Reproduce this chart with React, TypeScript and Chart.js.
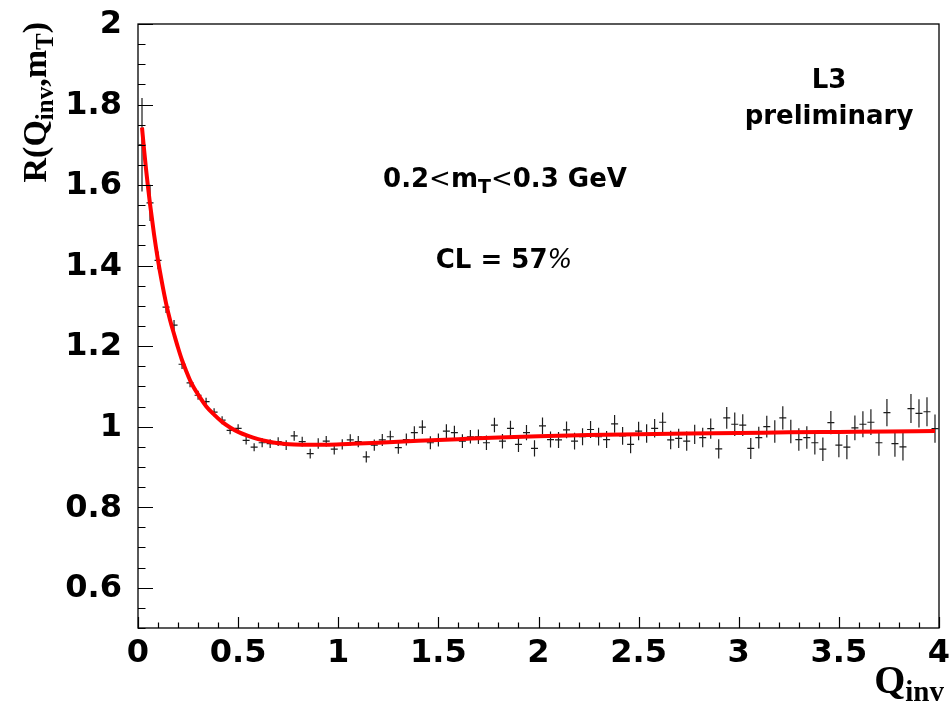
import React, { useEffect, useRef } from 'react';
import { Chart, registerables } from 'chart.js';

Chart.register(...registerables);

// ---- Data ----
const Q_BINS = [
  0.02, 0.06, 0.10, 0.14, 0.18, 0.22, 0.26, 0.30, 0.34, 0.38,
  0.42, 0.46, 0.50, 0.54, 0.58, 0.62, 0.66, 0.70, 0.74, 0.78,
  0.82, 0.86, 0.90, 0.94, 0.98, 1.02, 1.06, 1.10, 1.14, 1.18,
  1.22, 1.26, 1.30, 1.34, 1.38, 1.42, 1.46, 1.50, 1.54, 1.58,
  1.62, 1.66, 1.70, 1.74, 1.78, 1.82, 1.86, 1.90, 1.94, 1.98,
  2.02, 2.06, 2.10, 2.14, 2.18, 2.22, 2.26, 2.30, 2.34, 2.38,
  2.42, 2.46, 2.50, 2.54, 2.58, 2.62, 2.66, 2.70, 2.74, 2.78,
  2.82, 2.86, 2.90, 2.94, 2.98, 3.02, 3.06, 3.10, 3.14, 3.18,
  3.22, 3.26, 3.30, 3.34, 3.38, 3.42, 3.46, 3.50, 3.54, 3.58,
  3.62, 3.66, 3.70, 3.74, 3.78, 3.82, 3.86, 3.90, 3.94, 3.98,
];

const R_VALUES = [
  1.700, 1.556, 1.413, 1.297, 1.252, 1.155, 1.109, 1.078, 1.062, 1.036,
  1.016, 0.991, 0.996, 0.966, 0.949, 0.960, 0.958, 0.963, 0.954, 0.977,
  0.963, 0.933, 0.958, 0.964, 0.944, 0.956, 0.967, 0.963, 0.925, 0.954,
  0.967, 0.975, 0.948, 0.968, 0.985, 0.999, 0.960, 0.967, 0.989, 0.985,
  0.964, 0.975, 0.975, 0.960, 1.004, 0.964, 0.996, 0.956, 0.985, 0.946,
  1.002, 0.968, 0.967, 0.992, 0.964, 0.975, 0.993, 0.975, 0.968, 1.007,
  0.977, 0.956, 0.989, 0.983, 0.996, 1.011, 0.967, 0.971, 0.964, 0.981,
  0.973, 0.995, 0.945, 1.022, 1.006, 1.004, 0.946, 0.973, 1.000, 0.988,
  1.022, 0.988, 0.968, 0.973, 0.960, 0.944, 1.010, 0.954, 0.949, 0.997,
  1.006, 1.011, 0.960, 1.035, 0.958, 0.950, 1.045, 1.033, 1.037, 0.995,
];

const R_ERRORS = [
  0.116, 0.045, 0.022, 0.015, 0.013, 0.012, 0.011, 0.011, 0.010, 0.010,
  0.010, 0.010, 0.010, 0.010, 0.010, 0.011, 0.011, 0.011, 0.012, 0.012,
  0.012, 0.012, 0.013, 0.013, 0.013, 0.013, 0.014, 0.014, 0.014, 0.014,
  0.015, 0.015, 0.015, 0.015, 0.016, 0.017, 0.016, 0.016, 0.017, 0.017,
  0.017, 0.017, 0.018, 0.018, 0.018, 0.018, 0.019, 0.019, 0.019, 0.020,
  0.021, 0.020, 0.020, 0.021, 0.021, 0.021, 0.021, 0.022, 0.021, 0.022,
  0.022, 0.022, 0.023, 0.023, 0.023, 0.024, 0.023, 0.024, 0.024, 0.024,
  0.024, 0.025, 0.024, 0.027, 0.029, 0.027, 0.026, 0.027, 0.027, 0.028,
  0.029, 0.029, 0.028, 0.028, 0.029, 0.029, 0.029, 0.030, 0.030, 0.031,
  0.032, 0.032, 0.032, 0.034, 0.033, 0.034, 0.036, 0.035, 0.036, 0.035,
];

// Fit curve
const FIT_Q = [
  0.02, 0.03, 0.04, 0.05, 0.06, 0.08, 0.10, 0.12, 0.14, 0.16,
  0.18, 0.20, 0.22, 0.24, 0.26, 0.28, 0.30, 0.34, 0.38, 0.42,
  0.46, 0.50, 0.55, 0.60, 0.65, 0.70, 0.78, 0.86, 0.94, 1.05,
  1.20, 1.40, 1.60, 1.80, 2.00, 2.25, 2.50, 2.75, 3.00, 3.25,
  3.50, 3.75, 3.98,
];
const FIT_R = [
  1.743, 1.690, 1.640, 1.595, 1.553, 1.478, 1.413, 1.357, 1.307, 1.265,
  1.230, 1.196, 1.165, 1.139, 1.115, 1.096, 1.080, 1.051, 1.030, 1.012,
  0.998, 0.987, 0.977, 0.969, 0.963, 0.959, 0.956, 0.955, 0.955, 0.957,
  0.960, 0.965, 0.969, 0.973, 0.976, 0.979, 0.981, 0.983, 0.984, 0.986,
  0.987, 0.988, 0.989,
];

const X_TICKS = [0, 0.5, 1, 1.5, 2, 2.5, 3, 3.5, 4];
const X_TICK_LABELS = ['0', '0.5', '1', '1.5', '2', '2.5', '3', '3.5', '4'];
const Y_TICKS = [0.6, 0.8, 1, 1.2, 1.4, 1.6, 1.8, 2];
const Y_TICK_LABELS = ['0.6', '0.8', '1', '1.2', '1.4', '1.6', '1.8', '2'];

const X_MIN = 0;
const X_MAX = 4;
const Y_MIN = 0.5;
const Y_MAX = 2;
const BIN_HALF_WIDTH = 0.02;
const X_MINOR_STEP = 0.1;
const Y_MINOR_STEP = 0.05;

const SANS = '"DejaVu Sans", "Liberation Sans", sans-serif';
const SERIF = '"Liberation Serif", "Times New Roman", serif';

type Seg = { t: string; f: string; dy?: number };

function drawSegs(ctx: CanvasRenderingContext2D, segs: Seg[], x: number, y: number, align: 'left' | 'center' | 'right') {
  let w = 0;
  segs.forEach((s) => {
    ctx.font = s.f;
    w += ctx.measureText(s.t).width;
  });
  let cx = align === 'left' ? x : align === 'center' ? x - w / 2 : x - w;
  ctx.textAlign = 'left';
  ctx.textBaseline = 'alphabetic';
  segs.forEach((s) => {
    ctx.font = s.f;
    ctx.fillText(s.t, cx, y + (s.dy || 0));
    cx += ctx.measureText(s.t).width;
  });
}

const rootStyle = {
  id: 'rootStyle',
  beforeDatasetsDraw(chart: any) {
    const { ctx, scales } = chart;
    const x = scales.x;
    const y = scales.y;
    ctx.save();
    ctx.strokeStyle = '#1c1c1c';
    ctx.lineWidth = 1.2;
    ctx.beginPath();
    R_VALUES.forEach((v, i) => {
      const q = Q_BINS[i];
      const px = x.getPixelForValue(q);
      const py = y.getPixelForValue(v);
      const x0 = x.getPixelForValue(q - BIN_HALF_WIDTH) + 0.5;
      const x1 = x.getPixelForValue(q + BIN_HALF_WIDTH) - 0.5;
      const yt = y.getPixelForValue(Math.min(v + R_ERRORS[i], Y_MAX));
      const yb = y.getPixelForValue(v - R_ERRORS[i]);
      ctx.moveTo(x0, py);
      ctx.lineTo(x1, py);
      ctx.moveTo(px, yt);
      ctx.lineTo(px, yb);
    });
    ctx.stroke();
    ctx.restore();
  },
  afterDatasetsDraw(chart: any) {
    const { ctx, chartArea: a, scales } = chart;
    const x = scales.x;
    const y = scales.y;
    ctx.save();
    // frame
    ctx.strokeStyle = '#000';
    ctx.lineWidth = 1.3;
    ctx.strokeRect(a.left, a.top, a.right - a.left, a.bottom - a.top);

    // y ticks (inside, from left)
    ctx.lineWidth = 1.2;
    ctx.beginPath();
    const ny = Math.round((Y_MAX - Y_MIN) / Y_MINOR_STEP);
    for (let k = 0; k <= ny; k++) {
      const v = Y_MIN + k * Y_MINOR_STEP;
      const major = Y_TICKS.some((t) => Math.abs(t - v) < 1e-6);
      const py = Math.round(y.getPixelForValue(v)) + 0.5;
      ctx.moveTo(a.left, py);
      ctx.lineTo(a.left + (major ? 15 : 7.5), py);
    }
    // x ticks (inside, from bottom)
    const nx = Math.round((X_MAX - X_MIN) / X_MINOR_STEP);
    for (let k = 0; k <= nx; k++) {
      const v = X_MIN + k * X_MINOR_STEP;
      const major = X_TICKS.some((t) => Math.abs(t - v) < 1e-6);
      const px = Math.round(x.getPixelForValue(v)) + 0.5;
      ctx.moveTo(px, a.bottom);
      ctx.lineTo(px, a.bottom - (major ? 11 : 5.5));
    }
    ctx.stroke();

    // tick labels
    ctx.fillStyle = '#000';
    ctx.font = `bold 32px ${SANS}`;
    ctx.textAlign = 'right';
    ctx.textBaseline = 'middle';
    Y_TICKS.forEach((v, i) => {
      ctx.fillText(Y_TICK_LABELS[i], a.left - 16, y.getPixelForValue(v) + 1);
    });
    ctx.textAlign = 'center';
    ctx.textBaseline = 'alphabetic';
    X_TICKS.forEach((v, i) => {
      ctx.fillText(X_TICK_LABELS[i], x.getPixelForValue(v), 662);
    });

    // axis titles
    ctx.fillStyle = '#000';
    drawSegs(
      ctx,
      [
        { t: 'Q', f: `bold 40px ${SERIF}` },
        { t: 'inv', f: `bold 29px ${SERIF}`, dy: 8 },
      ],
      944,
      693,
      'right'
    );
    ctx.save();
    ctx.translate(46, 22);
    ctx.rotate(-Math.PI / 2);
    drawSegs(
      ctx,
      [
        { t: 'R(Q', f: `bold 34px ${SERIF}` },
        { t: 'inv', f: `bold 25px ${SERIF}`, dy: 7 },
        { t: ',m', f: `bold 34px ${SERIF}` },
        { t: 'T', f: `bold 25px ${SERIF}`, dy: 7 },
        { t: ')', f: `bold 34px ${SERIF}` },
      ],
      0,
      0,
      'right'
    );
    ctx.restore();

    // annotations
    const B = `bold 26px ${SANS}`;
    drawSegs(ctx, [{ t: 'L3', f: B }], 829, 88, 'center');
    drawSegs(ctx, [{ t: 'preliminary', f: B }], 829, 124, 'center');
    drawSegs(
      ctx,
      [
        { t: '0.2', f: B },
        { t: '<', f: `26px ${SANS}` },
        { t: 'm', f: B },
        { t: 'T', f: `bold 19px ${SANS}`, dy: 6 },
        { t: '<', f: `26px ${SANS}` },
        { t: '0.3 GeV', f: B },
      ],
      505,
      187,
      'center'
    );
    drawSegs(
      ctx,
      [
        { t: 'CL = 57', f: B },
        { t: '%', f: `italic 26px ${SANS}` },
      ],
      504,
      268,
      'center'
    );
    ctx.restore();
  },
};

export default function App() {
  const canvasRef = useRef<HTMLCanvasElement | null>(null);

  useEffect(() => {
    if (!canvasRef.current) return;
    const chart = new Chart(canvasRef.current, {
      type: 'scatter',
      data: {
        datasets: [
          {
            label: 'data',
            data: Q_BINS.map((q, i) => ({ x: q, y: R_VALUES[i] })),
            pointRadius: 0,
            showLine: false,
            borderColor: '#000',
            backgroundColor: '#000',
          },
          {
            label: 'fit',
            data: FIT_Q.map((q, i) => ({ x: q, y: FIT_R[i] })),
            showLine: true,
            pointRadius: 0,
            borderColor: '#ff0000',
            borderWidth: 4,
            cubicInterpolationMode: 'monotone',
            fill: false,
          } as any,
        ],
      },
      options: {
        responsive: false,
        animation: false,
        devicePixelRatio: 1,
        layout: { padding: { left: 0, right: 12, top: 24, bottom: 0 } },
        plugins: {
          legend: { display: false },
          tooltip: { enabled: false },
        },
        scales: {
          x: {
            type: 'linear',
            min: X_MIN,
            max: X_MAX,
            grid: { display: false },
            border: { display: false },
            ticks: { display: false },
            afterFit(s: any) {
              s.height = 73;
            },
          },
          y: {
            type: 'linear',
            min: Y_MIN,
            max: Y_MAX,
            grid: { display: false },
            border: { display: false },
            ticks: { display: false },
            afterFit(s: any) {
              s.width = 138;
            },
          },
        },
      } as any,
      plugins: [rootStyle],
    });
    return () => chart.destroy();
  }, []);

  return (
    <div style={{ position: 'absolute', left: 0, top: 0, width: 951, height: 701, background: '#fff' }}>
      <canvas ref={canvasRef} width={951} height={701} style={{ display: 'block' }} />
    </div>
  );
}
